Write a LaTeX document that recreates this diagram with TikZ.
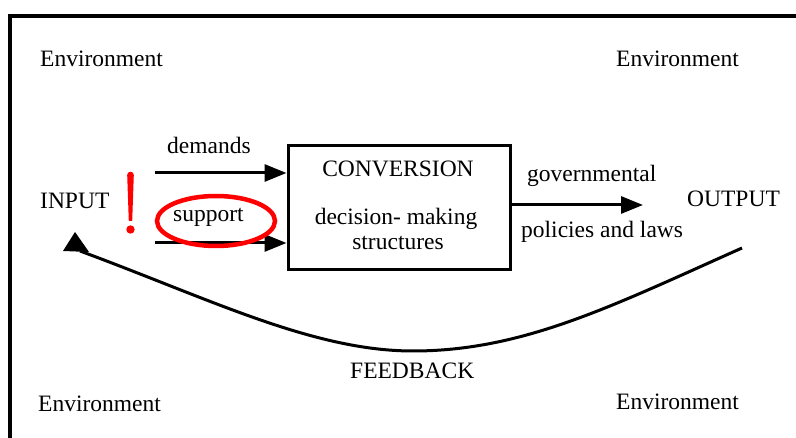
\documentclass[tikz,border=0pt]{standalone}
\usepackage{fontspec}
\setmainfont{Liberation Serif}
\usetikzlibrary{arrows.meta,calc,shapes.geometric}
\begin{document}
\begin{tikzpicture}[x=1pt,y=-1pt,
  lbl/.style={inner sep=0pt,font=\fontsize{23.5}{25}\selectfont,anchor=base west},
  clbl/.style={lbl,anchor=base},
  flow/.style={line width=3pt,-{Triangle[length=22pt,width=17pt]}},
  ]
\useasboundingbox (0,0) rectangle (796,438);
\draw[line width=4pt] (10,450) -- (10,16) -- (810,16);
% texts
\node[lbl] (envTL) at (40,67) {Environment};
\node[lbl] (envTR) at (616,67) {Environment};
\node[lbl] (envBL) at (38,412) {Environment};
\node[lbl] (envBR) at (616,410) {Environment};
\node[lbl] (fbl) at (350,379) {FEEDBACK};
\node[lbl] (input) at (40,209) {INPUT};
\node[lbl] (output) at (687,207) {OUTPUT};
\node[lbl] (dem) at (167,154) {demands};
\node[lbl] (sup) at (173,222) {support};
\node[lbl] (gov) at (527,182) {governmental};
\node[lbl] (pol) at (521,238) {policies and laws};
% box
\node[draw,line width=3pt,minimum width=222pt,minimum height=124pt,inner sep=0pt] (box) at (399,208) {};
\node[clbl] (conv) at (398,177) {CONVERSION};
\node[clbl] (dm1) at (396,225) {decision- making};
\node[clbl] (dm2) at (398,250) {structures};
% arrows
\coordinate (dS) at (155,173);
\coordinate (sS) at (155,243);
\coordinate (oE) at (643,205);
\draw[flow] (dS) -- (dS -| box.west);
\draw[flow] (sS) -- (sS -| box.west);
\draw[flow] (box.east |- oE) -- (oE);
% red marks
\node[draw=red,line width=4.5pt,ellipse,minimum width=118pt,minimum height=50pt,inner sep=0pt] (ring) at (216,221) {};
\fill[red] (127.2,175) arc[start angle=180,end angle=360,radius=3.3] -- (132.2,221) -- (128.8,221) -- cycle;
\fill[red] (130.5,229.5) circle[radius=4.2];
% feedback
\coordinate (fbS) at (742,248);
\coordinate (fbM) at (413,351);
\coordinate (fbE) at (80,251);
\draw[line width=3pt] (fbS) .. controls (612,306) and (523,351) .. (fbM) .. controls (313,351) and (210,299) .. (fbE);
\fill (75,232) -- (63,251) -- (89,252) -- cycle;
\end{tikzpicture}
\end{document}
